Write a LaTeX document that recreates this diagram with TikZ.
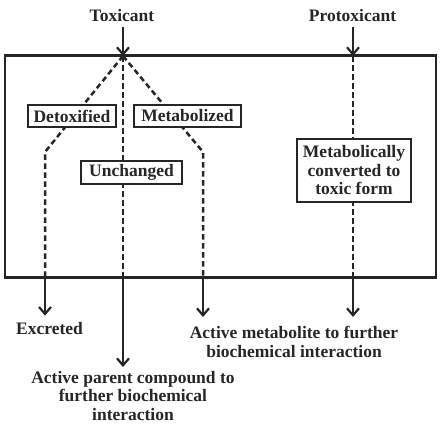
\documentclass[tikz,border=0pt]{standalone}
\usepackage{fontspec}
\setmainfont{Liberation Serif}
\usetikzlibrary{arrows.meta}
\definecolor{ink}{HTML}{262626}
\begin{document}
\begin{tikzpicture}[x=1pt,y=-1pt,
  every node/.style={text=ink},
  txt/.style={font=\fontsize{17.5}{18.5}\selectfont\bfseries, inner sep=0pt, align=center},
  stagebox/.style={draw=ink, line width=2.5pt, fill=white, font=\fontsize{17.5}{18.5}\selectfont\bfseries, inner sep=0pt, align=center},
  dline/.style={draw=ink, line width=2.5pt, dash pattern=on 5.5pt off 3.5pt},
  arr/.style={draw=ink, line width=2.2pt, -{Straight Barb[length=7pt,width=12pt]}},
]
\useasboundingbox (0,0) rectangle (441,423);
% labels
\node[txt, anchor=base] (tox) at (122,21.5) {Toxicant};
\node[txt, anchor=base] (protox) at (352.5,21.5) {Protoxicant};
\node[txt, anchor=base] (excreted) at (49.5,334) {Excreted};
\node[txt, anchor=north] (parent) at (133,371) {Active parent compound to\\further biochemical\\interaction};
\node[txt, anchor=north] (metab) at (294,326) {Active metabolite to further\\biochemical interaction};
% frame
\node[draw=ink, line width=2.6pt, minimum width=431pt, minimum height=222pt, inner sep=0pt] (frame) at (220.5,166.5) {};
% branch points
\coordinate (split) at (123,56);
\coordinate (pin) at (353,56);
\coordinate (lk) at (45,152);
\coordinate (rk) at (203,152);
% dashed routes
\draw[dline] (split) -- (lk) -- (lk |- frame.south);
\draw[dline] (split) -- (split |- frame.south);
\draw[dline] (split) -- (rk) -- (rk |- frame.south);
\draw[dline] (pin) -- (pin |- frame.south);
% boxes
\node[stagebox, minimum width=88pt, minimum height=22pt] (detox) at (72,116) {Detoxified};
\node[stagebox, minimum width=107pt, minimum height=22pt] (metabolized) at (187.5,116) {Metabolized};
\node[stagebox, minimum width=101pt, minimum height=23pt] (unchanged) at (131.5,172.5) {Unchanged};
\node[stagebox, minimum width=114pt, minimum height=63pt] (convert) at (354,170.5) {Metabolically\\converted to\\toxic form};
% input arrows
\draw[arr, shorten <=5.5pt] (tox.south -| split) -- (split);
\draw[arr, shorten <=5.5pt] (protox.south -| pin) -- (pin);
% output arrows
\draw[arr, shorten >=6pt] (lk |- frame.south) -- (excreted.north -| lk);
\draw[arr, shorten >=4pt] (split |- frame.south) -- (parent.north -| split);
\draw[arr, shorten >=9pt] (rk |- frame.south) -- (metab.north -| rk);
\draw[arr, shorten >=9pt] (pin |- frame.south) -- (metab.north -| pin);
\end{tikzpicture}
\end{document}
